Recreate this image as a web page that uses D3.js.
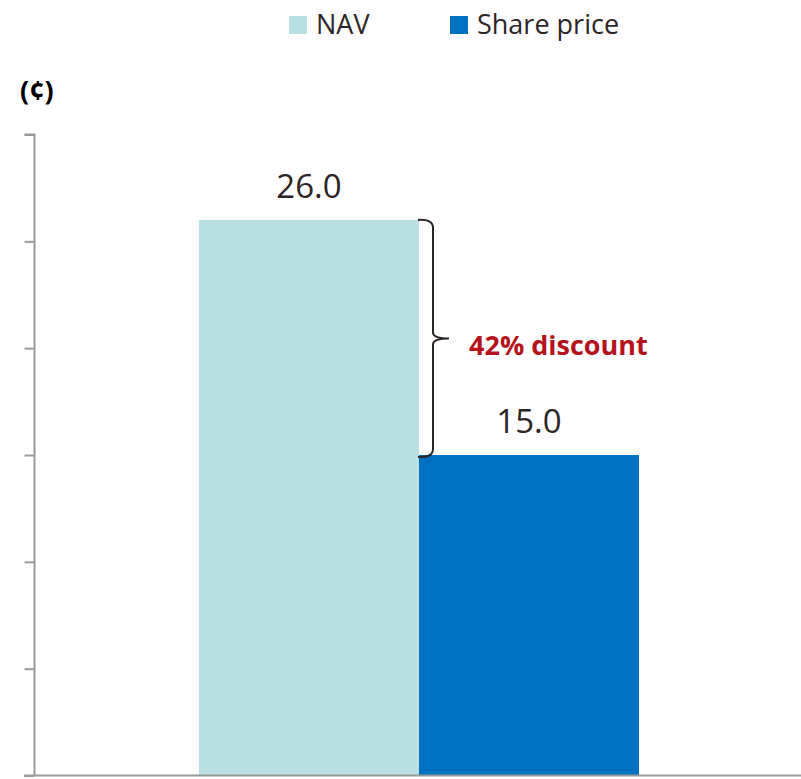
<!DOCTYPE html>
<html>
<head>
<meta charset="utf-8">
<script src="https://cdn.jsdelivr.net/npm/d3@7"></script>
<style>
  html, body { margin: 0; padding: 0; background: #fff; }
  svg { display: block; }
  text { font-family: "Open Sans", sans-serif; }
</style>
</head>
<body>
<svg id="chart" width="801" height="779"></svg>
<script>
// ---- data ----
const categories = ["Discount"];
const series = ["NAV", "Share price"];
const values = [26.0, 15.0];
const valueLabels = ["26.0", "15.0"];
const colors = ["#BBE0E3", "#0070C0"];
const discountLabel = "42% discount";
const unitLabel = "(¢)";
const yTicks = [0, 5, 10, 15, 20, 25, 30];

const svg = d3.select("#chart");
const W = 801, H = 779;

const y = d3.scaleLinear().domain([0, 30]).range([775.5, 134.5]);
const x0 = d3.scaleBand().domain(categories).range([35, 803]).paddingInner(0).paddingOuter(0.3727);
const x1 = d3.scaleBand().domain(series).range([0, x0.bandwidth()]).padding(0);

// y axis
const yAxis = d3.axisLeft(y).tickValues(yTicks).tickSize(10).tickFormat("");
const gy = svg.append("g").attr("transform", "translate(34.5,0)").call(yAxis);
gy.select(".domain").attr("stroke", "#9a9a9a").attr("stroke-width", 2).attr("d", `M-10,${y(30)}H0V${y(0)}`);
gy.selectAll(".tick line").attr("stroke", "#9a9a9a").attr("stroke-width", 2);

// bars
const g = svg.append("g");
const data = series.map((s, i) => ({ s, v: values[i], label: valueLabels[i], color: colors[i] }));
g.selectAll("rect.bar").data(data).enter().append("rect")
  .attr("class", "bar")
  .attr("x", d => x0(categories[0]) + x1(d.s))
  .attr("width", x1.bandwidth())
  .attr("y", d => y(d.v))
  .attr("height", d => y(0) - y(d.v))
  .attr("fill", d => d.color);

// baseline
svg.append("line").attr("x1", 24).attr("x2", W).attr("y1", y(0)).attr("y2", y(0))
  .attr("stroke", "#9a9a9a").attr("stroke-width", 2);

// value labels
g.selectAll("text.val").data(data).enter().append("text")
  .attr("class", "val")
  .attr("x", d => x0(categories[0]) + x1(d.s) + x1.bandwidth() / 2)
  .attr("y", d => y(d.v) - 22)
  .attr("text-anchor", "middle")
  .attr("font-size", 33)
  .attr("fill", "#2b2526")
  .text(d => d.label);

// brace
const bx = x0(categories[0]) + x1(series[1]) + 14;
const yT = y(values[0]), yB = y(values[1]) + 2;
const yM = (yT + yB) / 2;
const xl = x0(categories[0]) + x1(series[1]) - 1;
const bracePath = `M${xl},${yT} Q${bx},${yT - 1} ${bx},${yT + 8} L${bx},${yM - 6} Q${bx},${yM} ${bx + 16},${yM} Q${bx},${yM} ${bx},${yM + 6} L${bx},${yB - 8} Q${bx},${yB + 1} ${xl},${yB}`;
svg.append("path").attr("d", bracePath).attr("fill", "none").attr("stroke", "#2b2526").attr("stroke-width", 2);

svg.append("text").attr("x", bx + 36).attr("y", yM + 17)
  .attr("font-size", 27).attr("font-weight", "bold").attr("fill", "#B5121B")
  .text(discountLabel);

// unit label
svg.append("text").attr("x", 20).attr("y", 100).attr("font-size", 27).attr("font-weight", "bold").attr("fill", "#000").text(unitLabel);

// legend
const legX = [289, 450];
const lg = svg.append("g");
series.forEach((s, i) => {
  lg.append("rect").attr("x", legX[i]).attr("y", 16).attr("width", 18).attr("height", 18).attr("fill", colors[i]);
  lg.append("text").attr("x", legX[i] + 27).attr("y", 34).attr("font-size", 27).attr("fill", "#2b2526").text(s);
});
</script>
</body>
</html>
